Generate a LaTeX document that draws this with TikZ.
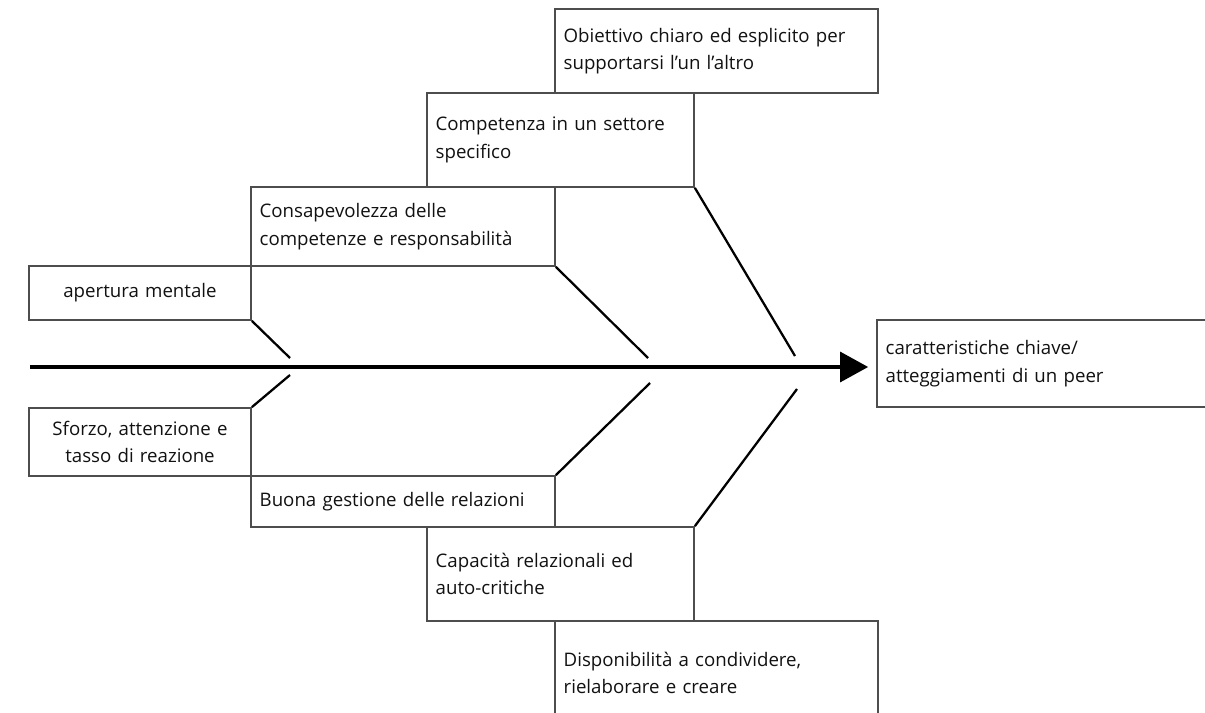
\documentclass[tikz,border=0pt]{standalone}
\usepackage{fontspec}
\setmainfont{Open Sans}
\usetikzlibrary{arrows.meta}
\definecolor{boxgray}{HTML}{4D4D4D}
\definecolor{txtcol}{HTML}{111111}
\tikzset{
  x=0.75pt, y=-0.75pt,
  box/.style n args={2}{draw=boxgray, line width=1.3pt, rectangle, inner xsep=6.5pt, inner ysep=0pt,
    minimum width=#1*0.75pt, minimum height=#2*0.75pt, text width=#1*0.75pt-13pt,
    align=left, text=txtcol, font=\fontsize{14}{20.5}\selectfont},
  cbox/.style n args={2}{box={#1}{#2}, align=center},
  bone/.style={draw=black, line width=1.7pt},
  spine/.style={draw=black, line width=2.3pt, -{Triangle[length=21pt,width=22.5pt]}}
}
\begin{document}
\begin{tikzpicture}
\useasboundingbox (0,0) rectangle (1205,713);
\clip (0,0) rectangle (1205,713);
\node[box={323}{84}] (obj) at (716.5,51) {Obiettivo chiaro ed esplicito per\\supportarsi l’un l’altro};
\node[box={267}{94}] (comp) at (560.5,140) {Competenza in un settore\\specifico};
\node[box={304}{79}] (cons) at (403,226.5) {Consapevolezza delle\\competenze e responsabilità};
\node[cbox={222}{54}] (ap) at (140,293) {apertura mentale};
\node[box={338}{87}] (eff) at (1046,363.5) {caratteristiche chiave/\\atteggiamenti di un peer};
\node[cbox={222}{68}] (sf) at (140,442) {Sforzo, attenzione e\\tasso di reazione};
\node[box={304}{51}] (buona) at (403,501.5) {Buona gestione delle relazioni};
\node[box={267}{94}] (cap) at (560.5,574) {Capacità relazionali ed\\auto-critiche};
\node[box={323}{104}] (disp) at (716.5,673) {Disponibilità a condividere,\\rielaborare e creare};

\coordinate (s0) at (30,367);
\coordinate (u1) at (290,358);
\coordinate (u2) at (648,358);
\coordinate (u3) at (795,356);
\coordinate (l1) at (290,375);
\coordinate (l2) at (650,383);
\coordinate (l3) at (797,389);

\draw[spine] (s0) -- (s0 -| eff.west) [shorten >=6pt];
\draw[bone] (ap.south east) -- (u1);
\draw[bone] (cons.south east) -- (u2);
\draw[bone] (comp.south east) -- (u3);
\draw[bone] (sf.north east) -- (l1);
\draw[bone] (buona.north east) -- (l2);
\draw[bone] (cap.north east) -- (l3);
\end{tikzpicture}
\end{document}
